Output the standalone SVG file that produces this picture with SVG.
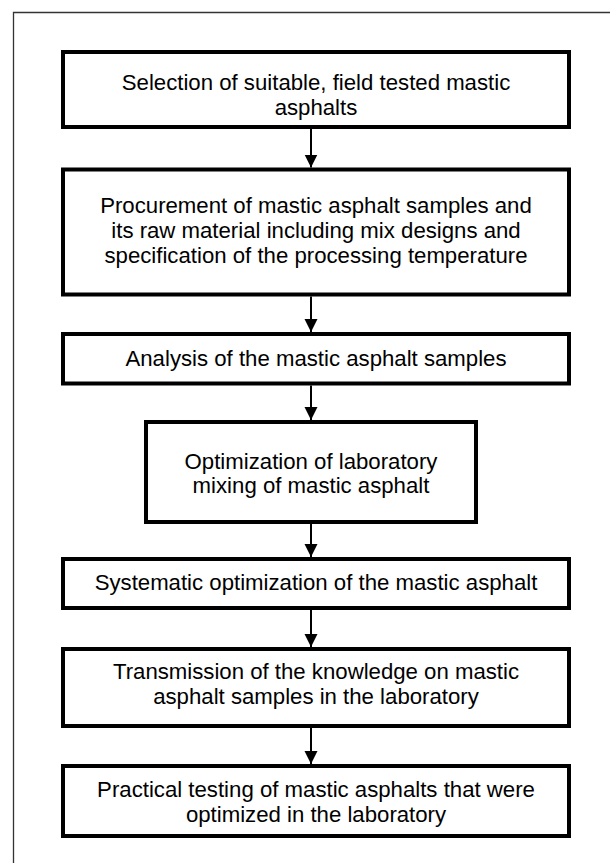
<svg xmlns="http://www.w3.org/2000/svg" width="610" height="863" viewBox="0 0 610 863">
<style>
.box{fill:#fff;stroke:#000;stroke-width:4}
.t{font-family:"Liberation Sans",Arial,sans-serif;font-size:22.2px;fill:#000;text-anchor:middle}
.c{stroke:#000;stroke-width:2;fill:none}
</style>
<defs>
<marker id="ah" markerUnits="userSpaceOnUse" markerWidth="14" markerHeight="14" refX="13" refY="6.5" orient="auto">
<path d="M0,0 L13,6.5 L0,13 Z" fill="#000"/>
</marker>
</defs>
<rect x="0" y="0" width="610" height="863" fill="#fff"/>
<path d="M13.5,870 L13.5,12.5 L620,12.5" fill="none" stroke="#333" stroke-width="1.3"/>
<g id="n1"><rect class="box" x="63" y="52" width="506" height="75"/>
<text class="t" x="316" y="90">Selection of suitable, field tested mastic</text>
<text class="t" x="316" y="115">asphalts</text></g>
<g id="n2"><rect class="box" x="63" y="169.5" width="506" height="125"/>
<text class="t" x="316" y="213">Procurement of mastic asphalt samples and</text>
<text class="t" x="316" y="238">its raw material including mix designs and</text>
<text class="t" x="316" y="263">specification of the processing temperature</text></g>
<g id="n3"><rect class="box" x="63" y="334" width="506" height="49.5"/>
<text class="t" x="316" y="366">Analysis of the mastic asphalt samples</text></g>
<g id="n4"><rect class="box" x="146" y="422" width="330" height="100"/>
<text class="t" x="311" y="469">Optimization of laboratory</text>
<text class="t" x="311" y="493">mixing of mastic asphalt</text></g>
<g id="n5"><rect class="box" x="63" y="559" width="506" height="49"/>
<text class="t" x="316" y="590">Systematic optimization of the mastic asphalt</text></g>
<g id="n6"><rect class="box" x="63" y="649" width="506" height="77"/>
<text class="t" x="316" y="679">Transmission of the knowledge on mastic</text>
<text class="t" x="316" y="704">asphalt samples in the laboratory</text></g>
<g id="n7"><rect class="box" x="63" y="766" width="506" height="70"/>
<text class="t" x="316" y="797">Practical testing of mastic asphalts that were</text>
<text class="t" x="316" y="822">optimized in the laboratory</text></g>
<g id="connectors">
<line class="c" x1="311" y1="129" x2="311" y2="167.5" marker-end="url(#ah)"/>
<line class="c" x1="311" y1="296.5" x2="311" y2="332" marker-end="url(#ah)"/>
<line class="c" x1="311" y1="385.5" x2="311" y2="420" marker-end="url(#ah)"/>
<line class="c" x1="311" y1="524" x2="311" y2="557" marker-end="url(#ah)"/>
<line class="c" x1="311" y1="610" x2="311" y2="647" marker-end="url(#ah)"/>
<line class="c" x1="311" y1="728" x2="311" y2="764" marker-end="url(#ah)"/>
</g>
</svg>
